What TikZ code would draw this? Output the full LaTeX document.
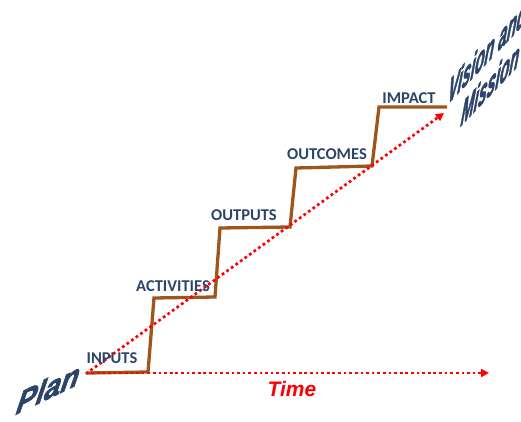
\documentclass[tikz,border=0pt]{standalone}
\usepackage{fontspec}
\setmainfont{Carlito}
\newfontfamily\arialfont{Liberation Sans}
\newfontfamily\wafont{Liberation Sans}[BoldItalicFeatures={FakeBold=2.5}]
\usetikzlibrary{arrows.meta}
\definecolor{stairbrown}{HTML}{9C561E}
\definecolor{navy}{HTML}{2B4468}
\tikzset{
  stair/.style={draw=stairbrown, line width=3.3pt, line join=miter},
  reddot/.style={draw=red, line width=2.7pt, line cap=rect, dash pattern=on 0.01pt off 5.6pt, -{Triangle[length=8pt,width=8pt]}},
  stlabel/.style={text=navy, font=\bfseries\fontsize{16.5}{16.5}\selectfont, inner sep=0pt},
  wordart/.style={text=navy, font=\wafont\bfseries\itshape\fontsize{34}{36}\selectfont, inner sep=0pt, anchor=base west, transform shape}
}
\begin{document}
\begin{tikzpicture}[x=1pt,y=1pt]
\useasboundingbox (0,0) rectangle (521,421);
\clip (0,0) rectangle (521,421);
% coordinates in pixel frame: (px, 421-py)
\coordinate (o) at (87,48);
\coordinate (a1) at (148,49);
\coordinate (a2) at (154,123);
\coordinate (b1) at (215,124);
\coordinate (b2) at (220,193);
\coordinate (c1) at (290,194);
\coordinate (c2) at (296,253);
\coordinate (d1) at (372,255);
\coordinate (d2) at (379,314);
\coordinate (e1) at (447,314);
\coordinate (tend) at (489,48);
\coordinate (dend) at (444,308);
\draw[stair] (o) -- (a1) -- (a2) -- (b1) -- (b2) -- (c1) -- (c2) -- (d1) -- (d2) -- (e1);
\draw[reddot] (o) -- (tend);
\draw[reddot] (o) -- (dend);
\node[stlabel] (inputs) at (112,63) {INPUTS};
\node[stlabel] (activities) at (173,135) {ACTIVITIES};
\node[stlabel] (outputs) at (244,206) {OUTPUTS};
\node[stlabel] (outcomes) at (327,267) {OUTCOMES};
\node[stlabel] (impact) at (409,323) {IMPACT};
\node[text=red, font=\arialfont\bfseries\itshape\fontsize{21}{23}\selectfont, inner sep=0pt] (time) at (292,32) {Time};
\begin{scope}[shift={(15,6)}, cm={0.87,0.42,0.18,0.95,(0,0)}]
  \node[wordart] (plan) at (0,0) {Plan};
\end{scope}
\begin{scope}[shift={(447,316)}, cm={0.42,0.44,0.12,1,(0,0)}]
  \node[wordart, font=\wafont\bfseries\itshape\fontsize{37}{39}\selectfont] (vision) at (0,0) {Vision and};
\end{scope}
\begin{scope}[shift={(460,294)}, cm={0.42,0.44,0.12,1,(0,0)}]
  \node[wordart, font=\wafont\bfseries\itshape\fontsize{37}{39}\selectfont] (mission) at (0,0) {Mission};
\end{scope}
\end{tikzpicture}
\end{document}
